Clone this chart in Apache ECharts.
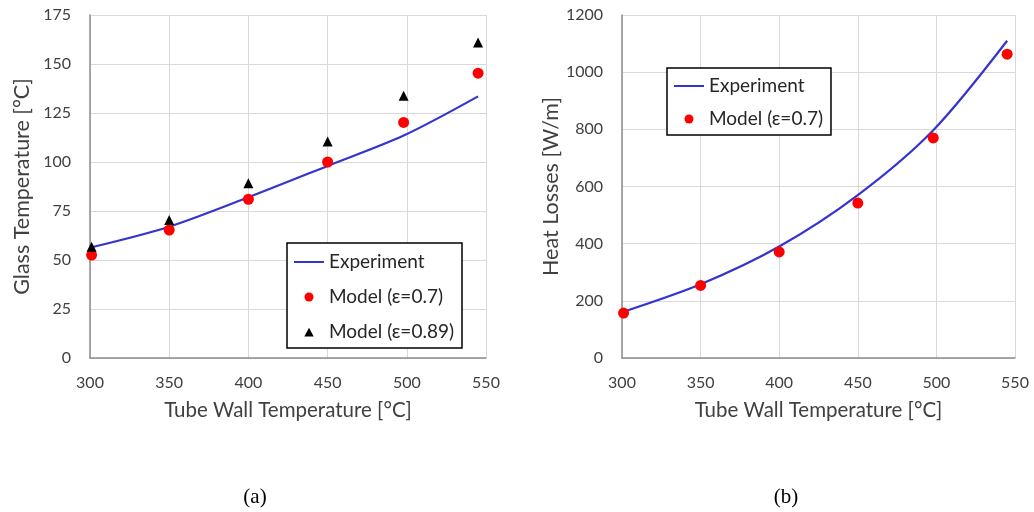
<!DOCTYPE html>
<html>
<head>
<meta charset="utf-8">
<script src="https://cdn.jsdelivr.net/npm/echarts@6/dist/echarts.min.js"></script>
<style>
html,body{margin:0;padding:0;background:#fff;}
#c{width:1034px;height:512px;}
</style>
</head>
<body>
<div id="c"></div>
<script>
// ---- data ----
var xTemps = [301, 350, 400, 450, 498, 545];
var glassExperiment = [56.5, 67, 82, 98, 113.5, 133.5];
var glassModel07 = [52.5, 65.3, 81, 100, 120.2, 145.3];
var glassModel089 = [56.8, 70.4, 89.1, 110.4, 133.8, 161];
var heatExperiment = [162, 258, 390, 570, 797, 1110];
var heatModel07 = [157, 254, 371, 542, 770, 1063];

function pairs(xs, ys){ return xs.map(function(x,i){ return [x, ys[i]]; }); }

var FONT = 'Lato';
var chart = echarts.init(document.getElementById('c'), null, {renderer:'canvas'});

function xAxisCfg(gi){
  return {
    type:'value', gridIndex:gi, min:300, max:550, interval:50,
    name:'Tube Wall Temperature [°C]', nameLocation:'middle', nameGap:42,
    nameTextStyle:{fontFamily:FONT, fontSize:20.5, color:'#404040'},
    axisLine:{show:true, lineStyle:{color:'#8c8c8c', width:1.5}},
    axisTick:{show:false},
    axisLabel:{fontFamily:FONT, fontSize:16, color:'#404040', margin:17},
    splitLine:{show:true, lineStyle:{color:'#d9d9d9', width:1}}
  };
}
function yAxisCfg(gi, max, interval, name, gap){
  return {
    type:'value', gridIndex:gi, min:0, max:max, interval:interval,
    name:name, nameLocation:'middle', nameGap:gap,
    nameTextStyle:{fontFamily:FONT, fontSize:21.5, color:'#404040'},
    axisLine:{show:true, lineStyle:{color:'#8c8c8c', width:1.5}},
    axisTick:{show:false},
    axisLabel:{fontFamily:FONT, fontSize:16, color:'#404040', margin:19,
               formatter:function(v){ return String(v); }},
    splitLine:{show:true, lineStyle:{color:'#d9d9d9', width:1}}
  };
}

var BLUE = '#3434cf';
var legendText = {fontFamily:FONT, fontSize:19, color:'#262626', lineHeight:20};
// triangle icon inside a 30x9 box (tiny corner marks fix the box size)
var TRI_ICON = 'path://M0,0L0.01,0L0,0.01Z M30,9L29.99,9L30,8.99Z M10.3,9L15,0.3L19.7,9Z';
var trimName = function(n){ return n.trim(); };

var option = {
  animation:false,
  backgroundColor:'#fff',
  title:[
    {text:'(a)', left:250, top:492, textAlign:'center', textVerticalAlign:'middle',
     textStyle:{fontFamily:'Liberation Serif', fontSize:21, fontWeight:'normal', color:'#000'}},
    {text:'(b)', left:781, top:492, textAlign:'center', textVerticalAlign:'middle',
     textStyle:{fontFamily:'Liberation Serif', fontSize:21, fontWeight:'normal', color:'#000'}}
  ],
  grid:[
    {left:90, right:548, top:15, bottom:154},
    {left:622, right:19, top:15, bottom:154}
  ],
  xAxis:[xAxisCfg(0), xAxisCfg(1)],
  yAxis:[
    yAxisCfg(0, 175, 25, 'Glass Temperature [°C]', 57),
    yAxisCfg(1, 1200, 200, 'Heat Losses [W/m]', 59)
  ],
  legend:[
    {
      orient:'vertical', left:287, top:243,
      padding:[9,8,6,6], itemGap:15,
      borderColor:'#000', borderWidth:1.5, backgroundColor:'#fff',
      itemWidth:30, itemHeight:9,
      textStyle:legendText, formatter:trimName,
      data:[
        {name:'Experiment', itemStyle:{opacity:0}},
        {name:'Model (ε=0.7)', icon:'circle'},
        {name:'Model (ε=0.89)', icon:TRI_ICON}
      ]
    },
    {
      orient:'vertical', left:667, top:68,
      padding:[8,8,6,6], itemGap:13,
      borderColor:'#000', borderWidth:1.5, backgroundColor:'#fff',
      itemWidth:30, itemHeight:9,
      textStyle:legendText, formatter:trimName,
      data:[
        {name:'Experiment ', itemStyle:{opacity:0}},
        {name:'Model (ε=0.7) ', icon:'circle'}
      ]
    }
  ],
  series:[
    {name:'Experiment', type:'line', xAxisIndex:0, yAxisIndex:0, data:pairs(xTemps, glassExperiment),
     smooth:0.3, symbol:'none', lineStyle:{color:BLUE, width:2.2}, itemStyle:{color:BLUE}, z:2},
    {name:'Model (ε=0.7)', type:'scatter', xAxisIndex:0, yAxisIndex:0, data:pairs(xTemps, glassModel07),
     symbol:'circle', symbolSize:11, itemStyle:{color:'#ff0000', opacity:1}, z:3},
    {name:'Model (ε=0.89)', type:'scatter', xAxisIndex:0, yAxisIndex:0, data:pairs(xTemps, glassModel089),
     symbol:'triangle', symbolSize:10, itemStyle:{color:'#000', opacity:1}, z:3},
    {name:'Experiment ', type:'line', xAxisIndex:1, yAxisIndex:1, data:pairs(xTemps, heatExperiment),
     smooth:0.3, symbol:'none', lineStyle:{color:BLUE, width:2.2}, itemStyle:{color:BLUE}, z:2},
    {name:'Model (ε=0.7) ', type:'scatter', xAxisIndex:1, yAxisIndex:1, data:pairs(xTemps, heatModel07),
     symbol:'circle', symbolSize:11, itemStyle:{color:'#ff0000', opacity:1}, z:3}
  ]
};
chart.setOption(option);
</script>
</body>
</html>
